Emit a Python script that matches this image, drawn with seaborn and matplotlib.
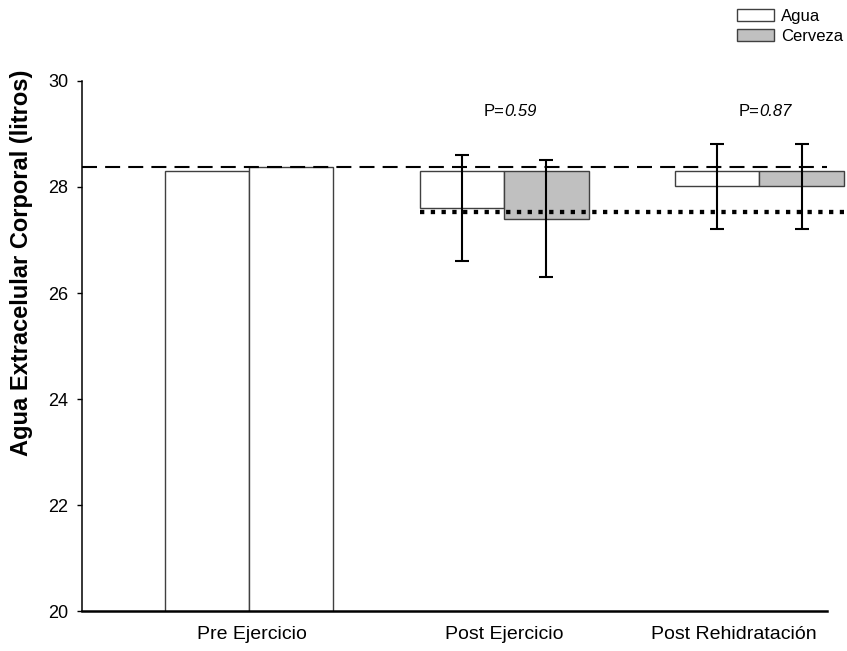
import pandas as pd
import seaborn as sns
import matplotlib.pyplot as plt
from matplotlib.patches import Patch

# Data
momentos = ['Pre Ejercicio', 'Post Ejercicio', 'Post Rehidratación']
bebidas = ['Agua', 'Cerveza']
agua = [28.30, 27.61, 28.01]
cerveza = [28.38, 27.40, 28.01]
agua_sd = [0.0, 1.00, 0.80]
cerveza_sd = [0.0, 1.10, 0.80]
p_valores = ['', '0.59', '0.87']
linea_pre = 28.38      # dashed reference line
linea_post = 27.52     # dotted reference line

baseline = agua[0]     # post bars hang from the pre-exercise level
gris = '#c0c0c0'
borde = '#404040'

df = pd.DataFrame({
    'momento': momentos * 2,
    'bebida': ['Agua'] * 3 + ['Cerveza'] * 3,
    'valor': agua + cerveza,
    'sd': agua_sd + cerveza_sd,
})
df['altura'] = df['valor'] - baseline
pre_df = df[df['momento'] == momentos[0]]
post_df = df[df['momento'] != momentos[0]]

sns.set_theme(style='ticks', rc={'text.color': 'black', 'axes.labelcolor': 'black',
                                 'xtick.color': 'black', 'ytick.color': 'black'})
plt.rcParams['font.family'] = ['Liberation Sans', 'DejaVu Sans']

fig = plt.figure(figsize=(8.47, 6.51), dpi=100)
ax = fig.add_axes([0.0968, 0.0614, 0.8796, 0.8142])

width = 0.66
bar_kws = dict(edgecolor=borde, linewidth=1.0)

# Pre-exercise bars (both white, standing from the axis)
sns.barplot(data=pre_df, x='momento', y='valor', hue='bebida', order=momentos,
            hue_order=bebidas, palette=['white', 'white'], width=width,
            errorbar=None, legend=False, ax=ax, **bar_kws)

# Post bars hanging down from the baseline
sns.barplot(data=post_df, x='momento', y='altura', hue='bebida', order=momentos,
            hue_order=bebidas, palette=['white', gris], width=width,
            errorbar=None, bottom=baseline, clip_on=False, legend=False, ax=ax,
            **bar_kws)

# Error bars at the lower end of each hanging bar
for i, row in post_df.iterrows():
    g = momentos.index(row['momento'])
    off = -width / 4 if row['bebida'] == 'Agua' else width / 4
    ax.errorbar(g + off, row['valor'], yerr=row['sd'], fmt='none', ecolor='black',
                elinewidth=1.5, capsize=4.7, capthick=1.5, zorder=5, clip_on=False)

# Reference lines
ax.axhline(linea_pre, color='black', lw=1.5, dashes=(7.2, 3.9), zorder=4)
ax.hlines(linea_post, 1 - width / 2, 2 + width / 2, color='black', lw=3.1,
          linestyles=(0, (1, 1.5)), zorder=4, clip_on=False)

# P values above the post groups
for g, p in enumerate(p_valores):
    if p:
        ax.text(g, 29.34, 'P=', ha='right', va='baseline', fontsize=12)
        ax.text(g, 29.34, p, ha='left', va='baseline', fontsize=12, style='italic')

ax.set_xlim(-0.656, 2.265)
ax.set_ylim(20, 30)
ax.set_yticks(range(20, 31, 2))
ax.set_xticks([0.01, 1.0, 1.9], momentos)
ax.tick_params(axis='x', length=0, pad=11, labelsize=14)
ax.tick_params(axis='y', length=3.5, width=1, pad=6.5, labelsize=13)
ax.set_xlabel('')
ax.set_ylabel('Agua Extracelular Corporal (litros)', fontsize=17, fontweight='bold')
ax.yaxis.set_label_coords(-0.066, 0.6575)

sns.despine(ax=ax)
ax.spines['left'].set_linewidth(1.1)
ax.spines['bottom'].set_linewidth(1.8)
ax.spines['left'].set_color('black')
ax.spines['bottom'].set_color('black')

handles = [Patch(facecolor=c, edgecolor=borde, linewidth=1.0, label=b)
           for b, c in zip(bebidas, ['white', gris])]
fig.legend(handles=handles, loc='upper left', bbox_to_anchor=(737 / 847, 1 - 9 / 651),
           frameon=False, fontsize=12, handlelength=2.2, handleheight=0.75,
           handletextpad=0.45, labelspacing=0.3, borderpad=0, borderaxespad=0)

fig.savefig('out.png', dpi=100)
